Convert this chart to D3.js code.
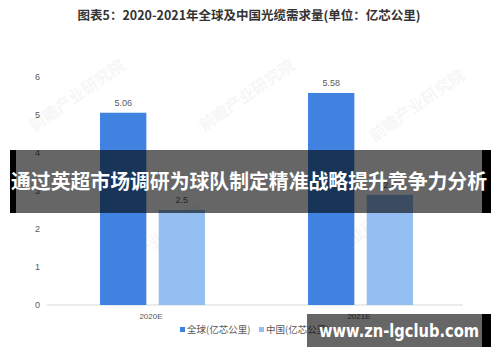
<!DOCTYPE html>
<html><head><meta charset="utf-8">
<script src="https://cdn.jsdelivr.net/npm/d3@7"></script>
<style>body{margin:0;background:#fff}svg{display:block}</style>
</head><body>
<script>
const categories = ["2020E", "2021E"];
const seriesNames = ["全球(亿芯公里)", "中国(亿芯公里)"];
const globalValues = [5.06, 5.58];
const chinaValues = [2.5, 2.9];
const yTicks = [0, 1, 2, 3, 4, 5, 6];
const titleText = "图表5：2020-2021年全球及中国光缆需求量(单位：亿芯公里)";
const bannerText = "通过英超市场调研为球队制定精准战略提升竞争力分析";
const siteText = "www.zn-lgclub.com";

const W = 500, H = 362;
const colors = ["#3F82DF", "#95BEF2"];
const cjk = "'Noto Sans CJK SC', 'Noto Sans', sans-serif";

const svg = d3.select("body").append("svg").attr("width", W).attr("height", H);

// faint watermarks
const wm = [[80,100],[250,100],[420,110],[160,245],[360,240]];
svg.append("g").selectAll("text").data(wm).join("text")
  .attr("transform", d => `translate(${d[0]},${d[1]}) rotate(-35)`)
  .attr("text-anchor", "middle").attr("font-family", cjk).attr("font-size", 16)
  .attr("font-weight", "bold").attr("fill", "#000").attr("opacity", 0.03)
  .text("前瞻产业研究院");

svg.append("text").attr("x", 249).attr("y", 20).attr("text-anchor", "middle")
  .attr("font-family", cjk).attr("font-size", 12.5).attr("font-weight", "bold")
  .attr("fill", "#333").text(titleText);

const x = d3.scaleBand().domain(categories).range([47, 463]).padding(0);
const y = d3.scaleLinear().domain([0, 6]).range([305, 77]);
const inner = d3.scaleBand().domain([0, 1]).range([53, 158]).paddingInner(0.21);

// y tick labels
svg.append("g").selectAll("text").data(yTicks).join("text")
  .attr("x", 40).attr("y", d => y(d)).attr("dy", "0.35em").attr("text-anchor", "end")
  .attr("font-family", "'Liberation Sans', Arial, sans-serif").attr("font-size", 9)
  .attr("fill", "#595959").text(d => d);

// baseline
svg.append("line").attr("x1", 47).attr("x2", 463).attr("y1", y(0)).attr("y2", y(0))
  .attr("stroke", "#d9d9d9").attr("stroke-width", 1);

const data = categories.map((c, i) => ({c, vals: [globalValues[i], chinaValues[i]]}));
const g = svg.append("g");
data.forEach(d => {
  d.vals.forEach((v, s) => {
    const bx = x(d.c) + inner(s);
    g.append("rect").attr("x", bx).attr("y", y(v)).attr("width", inner.bandwidth())
      .attr("height", y(0) - y(v)).attr("fill", colors[s]);
    g.append("text").attr("x", bx + inner.bandwidth() / 2).attr("y", y(v) - 7)
      .attr("text-anchor", "middle").attr("font-family", "'Liberation Sans', Arial, sans-serif")
      .attr("font-size", 9).attr("fill", "#595959").text(v);
  });
  g.append("text").attr("x", x(d.c) + x.bandwidth() / 2).attr("y", 316).attr("dy", "0.35em")
    .attr("text-anchor", "middle").attr("font-family", "'Liberation Sans', Arial, sans-serif")
    .attr("font-size", 8).attr("fill", "#595959").text(d.c);
});

// legend
const leg = svg.append("g");
const legX = [180, 259];
seriesNames.forEach((n, i) => {
  leg.append("rect").attr("x", legX[i]).attr("y", 327).attr("width", 5).attr("height", 5).attr("fill", colors[i]);
  leg.append("text").attr("x", legX[i] + 7).attr("y", 330).attr("dy", "0.35em")
    .attr("font-family", cjk).attr("font-size", 9.5).attr("fill", "#595959").text(n);
});

// banner overlay
svg.append("rect").attr("x", 10).attr("y", 150).attr("width", 6).attr("height", 63).attr("fill", "#000");
svg.append("rect").attr("x", 482).attr("y", 150).attr("width", 9).attr("height", 63).attr("fill", "#000");
svg.append("rect").attr("x", 16).attr("y", 150).attr("width", 466).attr("height", 63).attr("fill", "rgba(0,0,0,0.6)");
svg.append("text").attr("x", 249).attr("y", 182).attr("dy", "0.36em").attr("text-anchor", "middle")
  .attr("font-family", cjk).attr("font-size", 20).attr("font-weight", "bold").attr("fill", "#fff")
  .attr("textLength", 476).attr("lengthAdjust", "spacingAndGlyphs").text(bannerText);

// site watermark
svg.append("rect").attr("x", 482).attr("y", 314).attr("width", 9).attr("height", 33).attr("fill", "#000");
svg.append("rect").attr("x", 307).attr("y", 314).attr("width", 175).attr("height", 33).attr("fill", "rgba(0,0,0,0.6)");
svg.append("text").attr("x", 399).attr("y", 331).attr("dy", "0.36em").attr("text-anchor", "middle")
  .attr("font-family", "'DejaVu Sans', sans-serif").attr("font-size", 17).attr("font-weight", "bold").attr("fill", "#fff")
  .attr("textLength", 160).attr("lengthAdjust", "spacingAndGlyphs").text(siteText);
</script>
</body></html>
